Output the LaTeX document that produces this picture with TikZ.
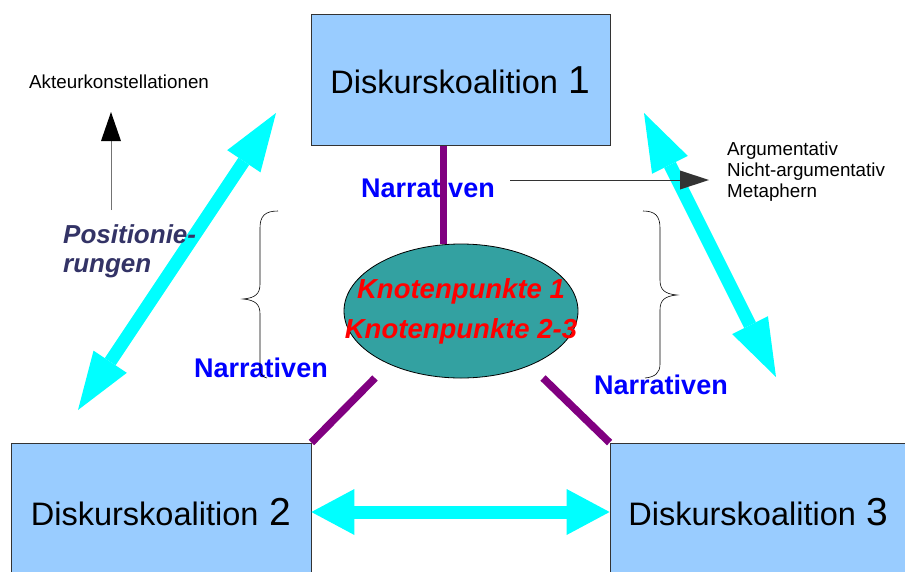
\documentclass[tikz,border=0pt]{standalone}
\usepackage{fontspec}
\setmainfont{Liberation Sans}
\usetikzlibrary{arrows.meta,shapes.geometric}

\definecolor{koalblau}{HTML}{99CCFF}
\definecolor{knotgruen}{RGB}{51,161,161}
\definecolor{lila}{HTML}{800080}
\definecolor{tuerkis}{HTML}{00FFFF}
\definecolor{posblau}{HTML}{333366}

\begin{document}
\begin{tikzpicture}[x = 1pt, y = -1pt,
	koal/.style = {draw = black!80, line width = 0.8pt, fill = koalblau, inner sep = 0, font = \fontsize{32.5}{36}\selectfont},
	narr/.style = {text = blue, inner sep = 0, font = \fontsize{27}{30}\selectfont\bfseries},
	klein/.style = {inner sep = 0, align = left, font = \fontsize{18.8}{21}\selectfont},
	link/.style = {draw = lila, line width = 7.5pt},
	dbl/.style = {draw = tuerkis, line width = 13pt, {Triangle[length = 58pt, width = 40pt, line width = 0pt]}-{Triangle[length = 58pt, width = 40pt, line width = 0pt]}},
	pfeil/.style = {line width = 1pt, -{Triangle[length = 29pt, width = 20pt, line width = 0pt, color = black]}}]
	\useasboundingbox (0,0) rectangle (905,571);

	% Koalitionen
	\node[koal, minimum width = 299pt, minimum height = 131pt] (k1) at (460.5,80) {Diskurskoalition\kern 11pt{\fontsize{39}{40}\selectfont 1}};
	\node[koal, minimum width = 300pt, minimum height = 138pt] (k2) at (161,512) {Diskurskoalition\kern 11pt{\fontsize{39}{40}\selectfont 2}};
	\node[koal, minimum width = 297pt, minimum height = 138pt] (k3) at (758.5,512) {Diskurskoalition\kern 11pt{\fontsize{39}{40}\selectfont 3}};

	% Knotenpunkte
	\node[ellipse, draw = black, line width = 0.8pt, fill = knotgruen, minimum width = 234pt, minimum height = 134pt] (kn) at (461,311) {};
	\node[text = red, inner sep = 0, align = center, font = \fontsize{27.5}{40}\selectfont\bfseries\itshape] (kt) at (kn) {Knotenpunkte 1\\Knotenpunkte 2-3};

	\node[narr] (n1) at (428,188) {Narrativen};
	\node[narr] (n2) at (261,368) {Narrativen};
	\node[narr] (n3) at (661,385) {Narrativen};

	\draw[link] ([xshift = -17pt]k1.south) -- ([xshift = -17pt]k1.south |- kn.north);
	\coordinate (l2) at (375,378);
	\coordinate (l3) at (543,378);
	\draw[link] (k2.north east) -- (l2);
	\draw[link] (k3.north west) -- (l3);

	% Doppelpfeile
	\coordinate (c1) at (276,113);
	\coordinate (c2) at (78,410);
	\coordinate (c3) at (644,113);
	\coordinate (c4) at (776,377);
	\draw[dbl] (c1) -- (c2);
	\draw[dbl] (c3) -- (c4);
	\draw[dbl, {Triangle[length = 43pt, width = 46pt, line width = 0pt]}-{Triangle[length = 43pt, width = 46pt, line width = 0pt]}] (k2.east) -- (k3.west);

	% Texte links und rechts
	\node[klein, anchor = base west] (akt) at (29,88) {Akteurkonstellationen};
	\node[inner sep = 0, anchor = north west, align = left, text = posblau, font = \fontsize{26}{29}\selectfont\bfseries\itshape] (pos) at (63,224) {Positionie-\\rungen};
	\node[klein, anchor = north west] (arg) at (727,142) {Argumentativ\\Nicht-argumentativ\\Metaphern};

	\coordinate (a1) at (111,210);
	\coordinate (a2) at (111,112);
	\draw[pfeil, draw = black!55] (a1) -- (a2);
	\coordinate (r1) at (510,180);
	\coordinate (r2) at (709,180);
	\draw[pfeil, draw = black!80, line width = 0.8pt, -{Triangle[length = 29pt, width = 19pt, line width = 0pt, color = black!80]}] (r1) -- (r2);

	% Klammern
	\draw[line width = 0.6pt] (278,211) .. controls (265,211) and (260,216) .. (260,228) -- (260,284) .. controls (260,294) and (255,298) .. (243,299) .. controls (255,300) and (260,304) .. (260,314) -- (260,368) .. controls (260,374) and (262,377) .. (267,378);
	\draw[line width = 0.6pt] (643,211) .. controls (655,211) and (660,216) .. (660,228) -- (660,280) .. controls (660,290) and (665,294) .. (677,295) .. controls (665,296) and (660,300) .. (660,310) -- (660,364) .. controls (660,373) and (655,377) .. (645,378);
\end{tikzpicture}
\end{document}
